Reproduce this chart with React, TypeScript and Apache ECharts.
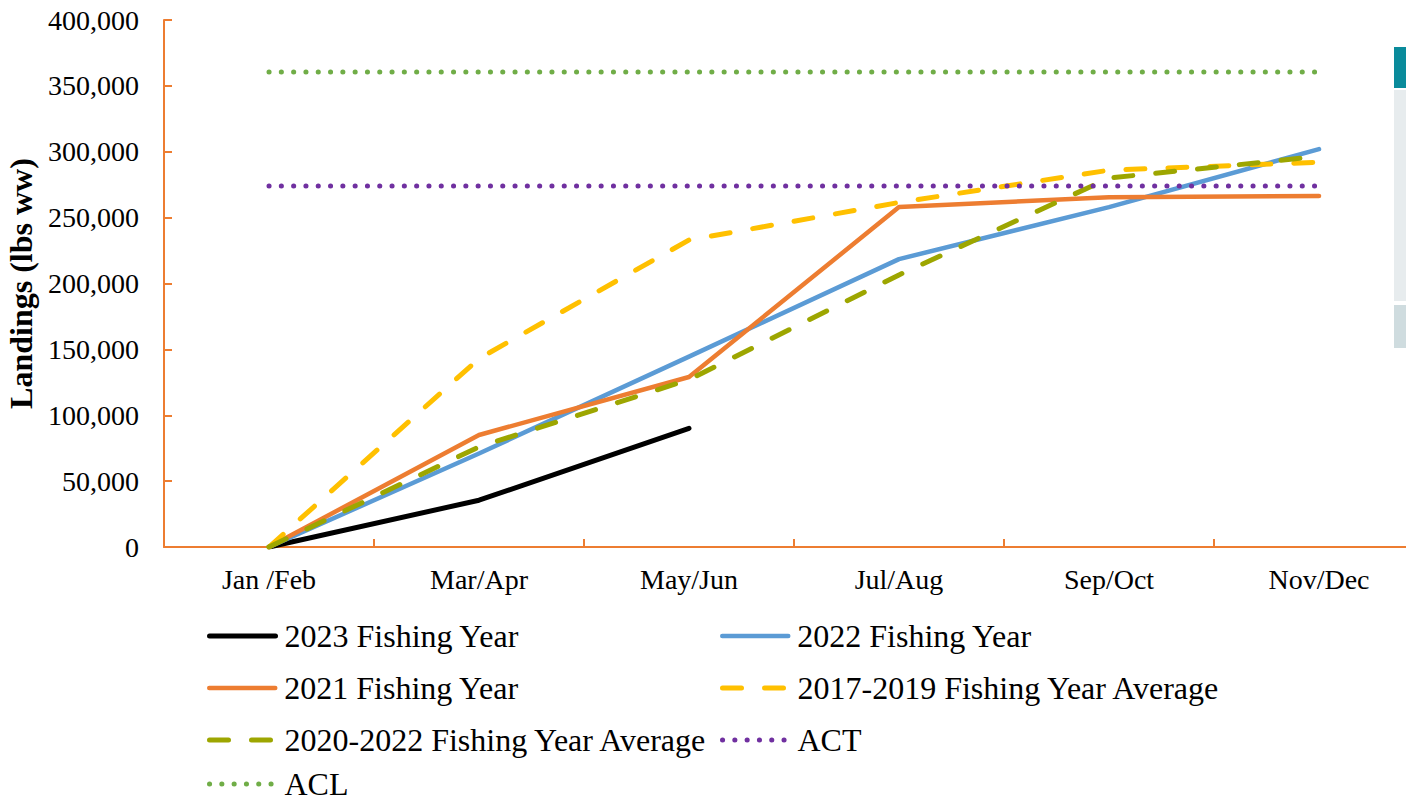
import React, { useEffect, useRef } from "react";
import * as echarts from "echarts";

const categories = ["Jan /Feb", "Mar/Apr", "May/Jun", "Jul/Aug", "Sep/Oct", "Nov/Dec"];
const fy2023 = [0, 35500, 90100];
const fy2022 = [0, 71000, 144500, 218500, 258000, 302000];
const fy2021 = [0, 85000, 129000, 258000, 265500, 266500];
const avg2017to2019 = [0, 143000, 233000, 261500, 286000, 292000];
const avg2020to2022 = [0, 76000, 127000, 206500, 280000, 296500];
const actValues = [274000, 274000, 274000, 274000, 274000, 274000];
const aclValues = [360500, 360500, 360500, 360500, 360500, 360500];
const yTicks = { min: 0, max: 400000, interval: 50000 };

const seriesNames = [
  "2023 Fishing Year",
  "2022 Fishing Year",
  "2021 Fishing Year",
  "2017-2019 Fishing Year Average",
  "2020-2022 Fishing Year Average",
  "ACT",
  "ACL",
];
const seriesData = [fy2023, fy2022, fy2021, avg2017to2019, avg2020to2022, actValues, aclValues];

const FONT = "'Liberation Serif', 'Times New Roman', serif";
const AXIS_COLOR = "#ED7D31";

const styles: any[] = [
  { color: "#000000", width: 5, type: "solid" },
  { color: "#5B9BD5", width: 4.5, type: "solid" },
  { color: "#ED7D31", width: 4.5, type: "solid" },
  { color: "#FFC000", width: 5, type: [19, 23] },
  { color: "#9DA600", width: 5, type: [19, 23] },
  { color: "#7030A0", width: 5, type: [0.1, 12.2] },
  { color: "#70AD47", width: 5, type: [0.1, 12.2] },
];

const legendPos = [
  [207, 637], [720, 637],
  [207, 689], [720, 689],
  [207, 741], [720, 741],
  [207, 785],
];

export default function App() {
  const ref = useRef<HTMLDivElement>(null);
  useEffect(() => {
    if (!ref.current) return;
    const chart = echarts.init(ref.current, undefined, { renderer: "svg" });
    const series = seriesNames.map((name, i) => ({
      name,
      type: "line",
      data: seriesData[i],
      symbol: "none",
      showSymbol: false,
      z: 2 + i,
      lineStyle: {
        color: styles[i].color,
        width: styles[i].width,
        type: styles[i].type,
        cap: "round",
        join: "round",
      },
      itemStyle: { color: styles[i].color },
    }));
    const legends = seriesNames.map((name, i) => ({
      show: true,
      data: [name],
      left: legendPos[i][0],
      top: legendPos[i][1] - 17,
      itemWidth: 66,
      itemHeight: 14,
      padding: 0,
      itemGap: 0,
      selectedMode: false,
      itemStyle: { opacity: 0 },
      lineStyle: {
        color: styles[i].color,
        width: styles[i].width,
        type: styles[i].type,
        cap: "round",
        join: "round",
      },
      textStyle: { fontSize: 32, lineHeight: 28, fontFamily: FONT, color: "#000", padding: [0, 0, 0, 4] },
    }));
    chart.setOption({
      animation: false,
      backgroundColor: "#ffffff",
      grid: { left: 164, top: 20, width: 1260, height: 527, containLabel: false, outerBoundsMode: "none" },
      legend: legends,
      xAxis: {
        type: "category",
        data: categories,
        boundaryGap: true,
        axisLine: { show: true, lineStyle: { color: AXIS_COLOR, width: 2 } },
        axisTick: { show: true, inside: true, length: 8, alignWithLabel: false, lineStyle: { color: AXIS_COLOR, width: 2 } },
        axisLabel: { color: "#000", fontSize: 28, fontFamily: FONT, margin: 18 },
        splitLine: { show: false },
      },
      yAxis: {
        type: "value",
        min: yTicks.min,
        max: yTicks.max,
        interval: yTicks.interval,
        name: "Landings (lbs ww)",
        nameLocation: "middle",
        nameGap: 118,
        nameTextStyle: { fontSize: 32, fontWeight: "bold", fontFamily: FONT, color: "#000" },
        axisLine: { show: true, lineStyle: { color: AXIS_COLOR, width: 2 } },
        axisTick: { show: true, inside: true, length: 8, lineStyle: { color: AXIS_COLOR, width: 2 } },
        axisLabel: {
          color: "#000",
          fontSize: 28,
          fontFamily: FONT,
          margin: 25,
          formatter: (v: number) => v.toLocaleString("en-US"),
        },
        splitLine: { show: false },
      },
      graphic: [
        { type: "rect", shape: { x: 1394, y: 47, width: 12, height: 41 }, style: { fill: "#0A8B9B" } },
        { type: "rect", shape: { x: 1394, y: 90, width: 12, height: 211 }, style: { fill: "#E7ECEE" } },
        { type: "rect", shape: { x: 1394, y: 305, width: 12, height: 43 }, style: { fill: "#CFDCDF" } },
      ],
      series,
    });
    return () => chart.dispose();
  }, []);
  return (
    <div
      ref={ref}
      style={{ position: "fixed", left: 0, top: 0, width: 1406, height: 802, background: "#fff" }}
    />
  );
}
